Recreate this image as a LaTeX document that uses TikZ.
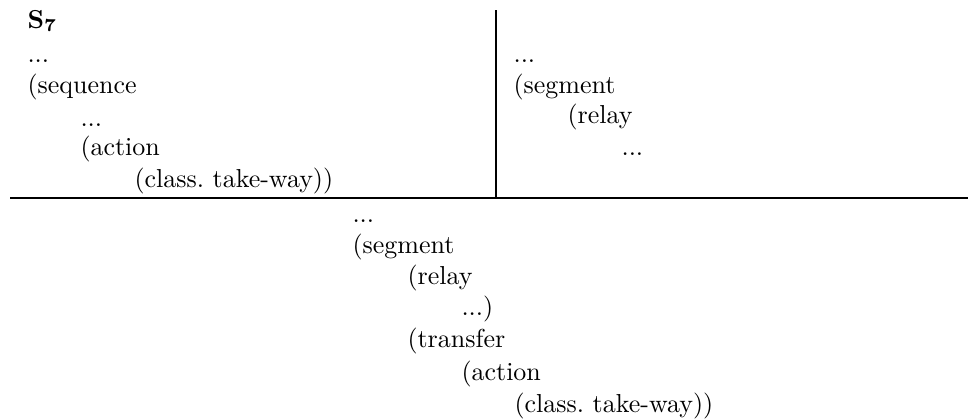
\documentclass[tikz,border=0pt]{standalone}
\begin{document}
\begin{tikzpicture}
      [x=0.385pt,y=-0.385pt,every node/.style={anchor=base west, inner sep=0pt}]
    \useasboundingbox (0,0) rectangle (968,419);

    % left column
    \node (s7)    at (27,28)  {$\mathbf{S_7}$};
    \node (l1)    at (27,62)  {...};
    \node (l2)    at (27,93)  {(sequence};
    \node (l3)    at (80,126) {...};
    \node (l4)    at (80,155) {(action};
    \node (l5)    at (134,187) {(class.\ take-way))};

    % right column
    \node (r1)    at (513,62)  {...};
    \node (r2)    at (513,93)  {(segment};
    \node (r3)    at (567,123) {(relay};
    \node (r4)    at (621,155) {...};

    % bottom
    \node (b1)    at (352,222) {...};
    \node (b2)    at (352,253) {(segment};
    \node (b3)    at (407,284) {(relay};
    \node (b4)    at (461,315) {...)};
    \node (b5)    at (407,347) {(transfer};
    \node (b6)    at (461,380) {(action};
    \node (b7)    at (514,412) {(class.\ take-way))};

    \coordinate (top)   at (496,10);
    \coordinate (mid)   at (496,198);
    \coordinate (left)  at (10,198);
    \coordinate (right) at (968,198);
    \draw (left) -- (right);
    \draw (top) -- (mid);
  \end{tikzpicture}
\end{document}
